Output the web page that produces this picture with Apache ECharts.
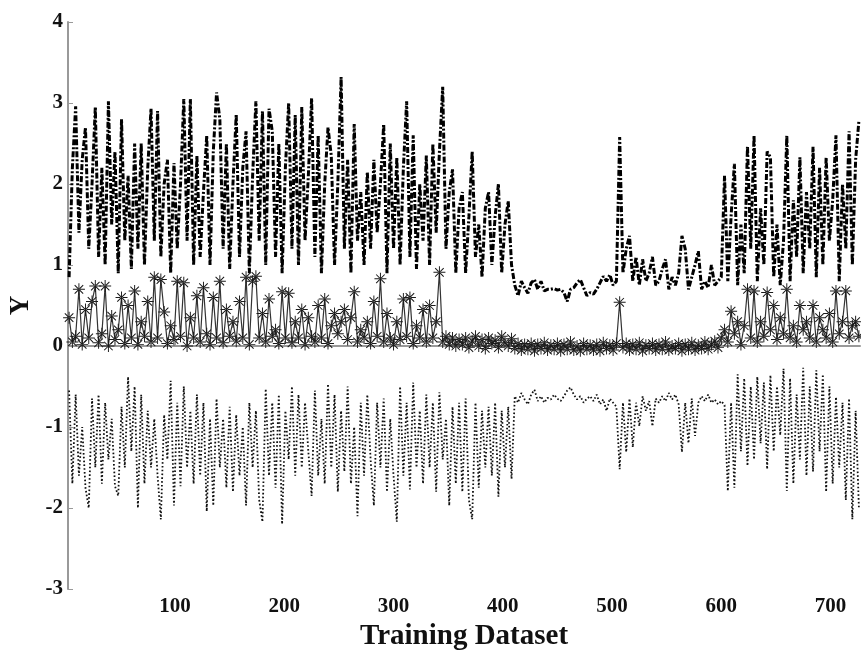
<!DOCTYPE html>
<html>
<head>
<meta charset="utf-8">
<script src="https://cdn.jsdelivr.net/npm/echarts@6/dist/echarts.min.js"></script>
<style>html,body{margin:0;padding:0;background:#fff}#c{width:861px;height:651px}</style>
</head>
<body>
<div id="c"></div>
<script>
// sampling grid: x = 3, 6, 9, ... (one value every 3 training samples)
const xStart = 3;
const xStep = 3;

// upper curve (dash-dot)
const upperSeries = [
  0.85,2.2,2.96,1.4,2.3,2.7,1.2,2.0,2.95,1.1,
  2.2,1.0,3.02,1.5,2.4,0.9,2.8,1.3,2.1,0.95,
  2.5,1.2,2.5,1.0,2.2,2.93,1.3,2.9,1.1,2.0,
  2.3,0.9,2.26,1.2,2.0,3.05,1.3,3.05,1.0,2.35,
  1.1,1.9,2.6,1.0,2.4,3.13,2.8,1.2,2.5,0.95,
  2.0,2.86,1.1,2.2,2.65,0.9,2.1,3.02,1.3,2.9,
  1.0,2.93,2.65,1.1,2.5,0.9,2.2,3.0,1.2,2.85,
  1.0,2.95,1.3,2.1,3.06,1.1,2.6,0.9,2.0,2.7,
  2.35,1.0,2.0,3.32,1.2,2.3,0.9,2.74,1.3,1.9,
  1.0,2.15,1.2,2.3,1.4,2.0,2.74,0.9,2.5,1.2,
  2.33,1.0,2.2,3.02,1.1,2.6,0.95,2.0,1.3,2.35,
  1.0,2.5,1.4,2.4,3.2,1.2,1.9,2.18,0.9,1.7,
  1.9,0.9,1.6,2.4,1.1,1.5,0.85,1.7,1.9,1.0,
  1.6,2.0,0.9,1.5,1.79,1.0,0.75,0.62,0.8,0.72,
  0.65,0.78,0.82,0.7,0.8,0.68,0.7,0.7,0.71,0.69,
  0.7,0.66,0.55,0.7,0.72,0.78,0.82,0.72,0.62,0.66,
  0.64,0.7,0.78,0.86,0.8,0.88,0.75,0.8,2.58,0.9,
  1.2,1.36,0.8,1.1,0.75,1.07,0.8,0.9,1.1,0.75,
  0.8,0.95,1.07,0.7,0.85,0.75,0.9,1.36,1.2,0.7,
  0.85,1.0,1.17,0.7,0.8,0.72,1.0,0.75,0.8,0.85,
  2.1,0.8,1.6,2.25,0.75,1.5,0.9,2.47,1.2,2.6,
  0.8,1.7,1.0,2.4,2.33,0.85,1.5,0.75,1.3,2.6,
  0.8,1.8,1.1,2.33,0.9,1.9,1.2,2.46,0.85,2.2,
  1.0,2.33,1.3,1.8,2.6,0.8,2.0,1.2,2.65,1.0,
  2.3,2.78
];

// middle curve (asterisk markers, near zero)
const middleSeries = [
  0.35,0.05,0.12,0.7,0.02,0.45,0.1,0.55,0.74,0.04,
  0.15,0.74,0.0,0.37,0.08,0.2,0.6,0.03,0.5,0.1,
  0.68,0.02,0.3,0.12,0.55,0.05,0.85,0.1,0.82,0.42,
  0.03,0.25,0.08,0.8,0.12,0.78,0.0,0.35,0.1,0.62,
  0.05,0.72,0.15,0.02,0.6,0.1,0.8,0.04,0.45,0.12,
  0.3,0.06,0.55,0.1,0.85,0.02,0.8,0.86,0.1,0.4,
  0.05,0.58,0.12,0.2,0.03,0.67,0.1,0.65,0.04,0.3,
  0.1,0.45,0.02,0.35,0.12,0.05,0.5,0.1,0.58,0.03,
  0.25,0.4,0.15,0.3,0.45,0.08,0.35,0.67,0.05,0.2,
  0.1,0.3,0.03,0.55,0.12,0.83,0.05,0.4,0.1,0.02,
  0.3,0.08,0.58,0.12,0.6,0.03,0.25,0.1,0.45,0.05,
  0.5,0.1,0.3,0.91,0.05,0.12,0.02,0.1,0.0,0.08,
  0.02,0.1,-0.02,0.06,0.12,0.0,0.08,-0.03,0.1,0.03,
  0.07,-0.02,0.12,0.04,0.0,0.09,-0.03,0.03,-0.05,0.02,
  -0.04,0.03,-0.06,0.02,-0.03,0.04,-0.05,0.01,-0.04,0.03,
  -0.06,0.02,-0.04,0.05,-0.05,0.0,-0.06,0.03,-0.04,0.01,
  -0.05,0.02,-0.06,0.04,-0.03,0.01,-0.05,0.03,0.54,-0.02,
  0.03,-0.05,0.02,-0.04,0.04,-0.06,0.01,-0.03,0.03,-0.05,
  0.02,-0.04,0.05,-0.05,0.0,-0.03,0.03,-0.06,0.02,-0.04,
  0.04,-0.05,0.01,-0.03,0.05,-0.04,0.02,0.06,-0.02,0.1,
  0.2,0.05,0.43,0.15,0.3,0.02,0.25,0.7,0.1,0.68,
  0.05,0.3,0.12,0.66,0.2,0.5,0.08,0.35,0.15,0.7,
  0.1,0.25,0.05,0.5,0.2,0.3,0.1,0.5,0.05,0.35,
  0.2,0.1,0.4,0.05,0.68,0.15,0.3,0.68,0.1,0.25,
  0.3,0.12
];

// lower curve (dotted)
const lowerSeries = [
  -0.55,-1.7,-0.6,-1.6,-1.0,-1.75,-2.0,-0.65,-1.5,-0.6,
  -1.7,-0.7,-1.4,-0.9,-1.73,-1.85,-0.75,-1.5,-0.38,-1.3,
  -0.5,-2.0,-0.6,-1.7,-0.8,-1.5,-0.9,-1.6,-2.14,-0.85,
  -1.4,-0.43,-1.97,-0.7,-1.73,-0.5,-1.5,-0.8,-1.7,-0.6,
  -1.6,-0.7,-2.04,-0.9,-1.97,-0.65,-1.5,-0.9,-1.75,-0.75,
  -1.8,-0.85,-1.6,-1.0,-1.97,-0.7,-1.5,-0.8,-1.9,-2.17,
  -0.53,-1.6,-0.7,-1.75,-0.6,-2.2,-0.8,-1.4,-0.5,-1.6,
  -0.6,-1.5,-0.7,-1.3,-1.85,-0.55,-1.6,-0.9,-1.7,-0.47,
  -1.5,-0.6,-1.8,-0.8,-1.55,-0.5,-1.7,-1.0,-2.1,-0.7,
  -1.6,-0.6,-1.4,-1.97,-0.7,-1.5,-0.65,-1.8,-0.9,-1.6,
  -2.17,-0.5,-1.6,-0.7,-1.77,-0.45,-1.5,-0.8,-1.7,-0.6,
  -1.5,-0.7,-1.8,-0.57,-1.4,-0.9,-1.97,-0.75,-1.7,-0.7,
  -1.8,-0.65,-1.9,-2.14,-0.7,-1.75,-0.8,-1.5,-0.75,-1.6,
  -0.7,-1.86,-0.8,-1.5,-0.75,-1.64,-0.62,-0.7,-0.58,-0.66,
  -0.72,-0.6,-0.54,-0.68,-0.62,-0.7,-0.64,-0.66,-0.6,-0.65,
  -0.68,-0.62,-0.55,-0.51,-0.6,-0.66,-0.62,-0.7,-0.65,-0.62,
  -0.68,-0.6,-0.72,-0.66,-0.8,-0.65,-0.7,-0.75,-1.52,-0.7,
  -1.31,-0.65,-1.25,-0.7,-0.99,-0.62,-0.8,-0.68,-0.99,-0.65,
  -0.7,-0.62,-0.68,-0.58,-0.66,-0.6,-0.72,-1.31,-0.7,-1.2,
  -0.65,-1.11,-0.7,-0.62,-0.68,-0.6,-0.7,-0.66,-0.72,-0.68,
  -0.73,-1.79,-0.7,-1.75,-0.35,-1.3,-0.4,-1.48,-0.5,-1.4,
  -0.38,-1.2,-0.45,-1.52,-0.36,-1.3,-0.5,-1.1,-0.28,-1.79,
  -0.4,-1.7,-0.6,-1.4,-0.27,-1.6,-0.5,-1.55,-0.3,-1.3,
  -0.35,-1.8,-0.5,-1.7,-0.63,-1.5,-0.7,-1.9,-0.65,-2.14,
  -0.8,-2.0
];

const xTickLabels = [100, 200, 300, 400, 500, 600, 700];
const yTickLabels = [-3, -2, -1, 0, 1, 2, 3, 4];

function pairs(vals) {
  return vals.map((v, i) => [xStart + xStep * i, v]);
}

const asterisk = 'path://M-0.8,-10L0.8,-10L0.8,10L-0.8,10Z M-10,-0.8L-10,0.8L10,0.8L10,-0.8Z M-7.7,-6.5L-6.5,-7.7L7.7,6.5L6.5,7.7Z M6.5,-7.7L7.7,-6.5L-6.5,7.7L-7.7,6.5Z';

const font = 'Liberation Serif';
const chart = echarts.init(document.getElementById('c'), null, {renderer: 'canvas'});
chart.setOption({
  animation: false,
  backgroundColor: '#fff',
  grid: {left: 68, right: 1, top: 22, bottom: 62, containLabel: false, outerBoundsMode: 'none'},
  xAxis: {
    type: 'value', min: 2, max: 727,
    name: 'Training Dataset', nameLocation: 'middle', nameGap: 29,
    nameTextStyle: {fontFamily: font, fontWeight: 'bold', fontSize: 29, color: '#111'},
    axisLine: {show: true, lineStyle: {color: '#999', width: 2}},
    axisTick: {show: true, inside: true, length: 5, lineStyle: {color: '#999', width: 1}, customValues: xTickLabels},
    axisLabel: {customValues: xTickLabels, fontFamily: font, fontWeight: 'bold', fontSize: 21, color: '#111', margin: 7},
    splitLine: {show: false}
  },
  yAxis: {
    type: 'value', min: -3, max: 4,
    name: 'Y', nameLocation: 'middle', nameGap: 33, nameRotate: 90,
    nameTextStyle: {fontFamily: font, fontWeight: 'bold', fontSize: 27, color: '#111'},
    axisLine: {show: true, lineStyle: {color: '#999', width: 2}},
    axisTick: {show: true, inside: true, length: 5, lineStyle: {color: '#999', width: 1}, customValues: yTickLabels},
    axisLabel: {customValues: yTickLabels, fontFamily: font, fontWeight: 'bold', fontSize: 21, color: '#111', margin: 5},
    splitLine: {show: false}
  },
  series: [
    {
      type: 'line', data: pairs(upperSeries), showSymbol: false,
      lineStyle: {color: '#000', width: 3, type: [6, 2, 2, 2]}
    },
    {
      type: 'line', data: pairs(middleSeries), showSymbol: true, showAllSymbol: true,
      symbol: asterisk, symbolSize: 12,
      itemStyle: {color: '#1a1a1a'},
      lineStyle: {color: '#333', width: 1.2}
    },
    {
      type: 'line', data: pairs(lowerSeries), showSymbol: false,
      lineStyle: {color: '#111', width: 1.8, type: [1.6, 2.2]}
    }
  ]
});
</script>
</body>
</html>
